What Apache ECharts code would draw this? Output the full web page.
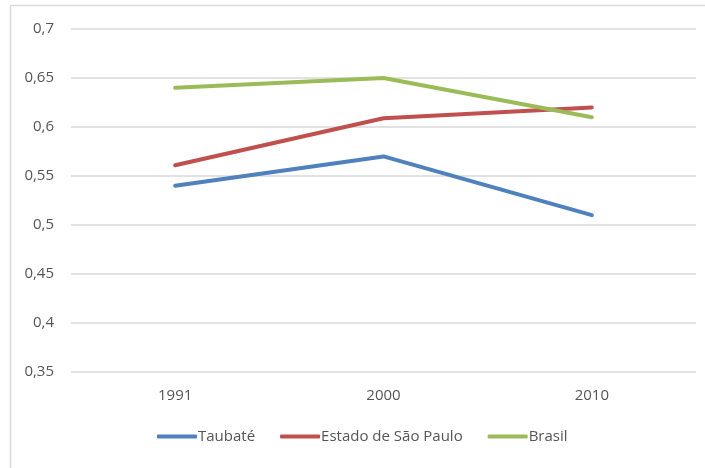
<!DOCTYPE html>
<html>
<head>
<meta charset="utf-8">
<script src="https://cdn.jsdelivr.net/npm/echarts@6/dist/echarts.min.js"></script>
<style>
  html, body { margin: 0; padding: 0; background: #fff; }
  #chart { width: 705px; height: 468px; }
</style>
</head>
<body>
<div id="chart"></div>
<script>
const anos = ['1991', '2000', '2010']
const taubate = [0.54, 0.57, 0.51]
const estadoSP = [0.561, 0.609, 0.62]
const brasil = [0.64, 0.65, 0.61]

const cores = ['#4f81bd', '#c0504d', '#9bbb59']
const fonte = 'Open Sans'

const chart = echarts.init(document.getElementById('chart'))

function serie(nome, dados, cor) {
  return {
    name: nome,
    type: 'line',
    data: dados,
    symbol: 'none',
    lineStyle: { color: cor, width: 4, cap: 'round', join: 'round' },
    itemStyle: { color: cor }
  }
}

chart.setOption({
  animation: false,
  textStyle: { fontFamily: fonte },
  color: cores,
  graphic: [{
    type: 'polyline',
    shape: { points: [[10.5, 468], [10.5, 5.5], [705, 5.5]] },
    style: { stroke: '#d9d9d9', lineWidth: 1.5, fill: null }
  }],
  grid: { left: 71, right: 9, top: 29, bottom: 96 },
  legend: {
    bottom: 19,
    left: 152,
    itemWidth: 40,
    itemHeight: 4,
    itemGap: 25,
    icon: 'roundRect',
    textStyle: { color: '#555', fontSize: 15, fontFamily: fonte, padding: [0, 0, 0, -4] },
    data: ['Taubaté', 'Estado de São Paulo', 'Brasil']
  },
  xAxis: {
    type: 'category',
    data: anos,
    axisLine: { show: false },
    axisTick: { show: false },
    axisLabel: { color: '#555', fontSize: 15, margin: 16 }
  },
  yAxis: {
    type: 'value',
    min: 0.35,
    max: 0.7,
    interval: 0.05,
    axisLine: { show: false },
    axisTick: { show: false },
    splitLine: { lineStyle: { color: '#d9d9d9', width: 1.5 } },
    axisLabel: {
      color: '#555',
      fontSize: 15,
      margin: 17,
      formatter: v => String(+v.toFixed(2)).replace('.', ',')
    }
  },
  series: [
    serie('Taubaté', taubate, cores[0]),
    serie('Estado de São Paulo', estadoSP, cores[1]),
    serie('Brasil', brasil, cores[2])
  ]
})

window.addEventListener('resize', () => chart.resize())
</script>
</body>
</html>
